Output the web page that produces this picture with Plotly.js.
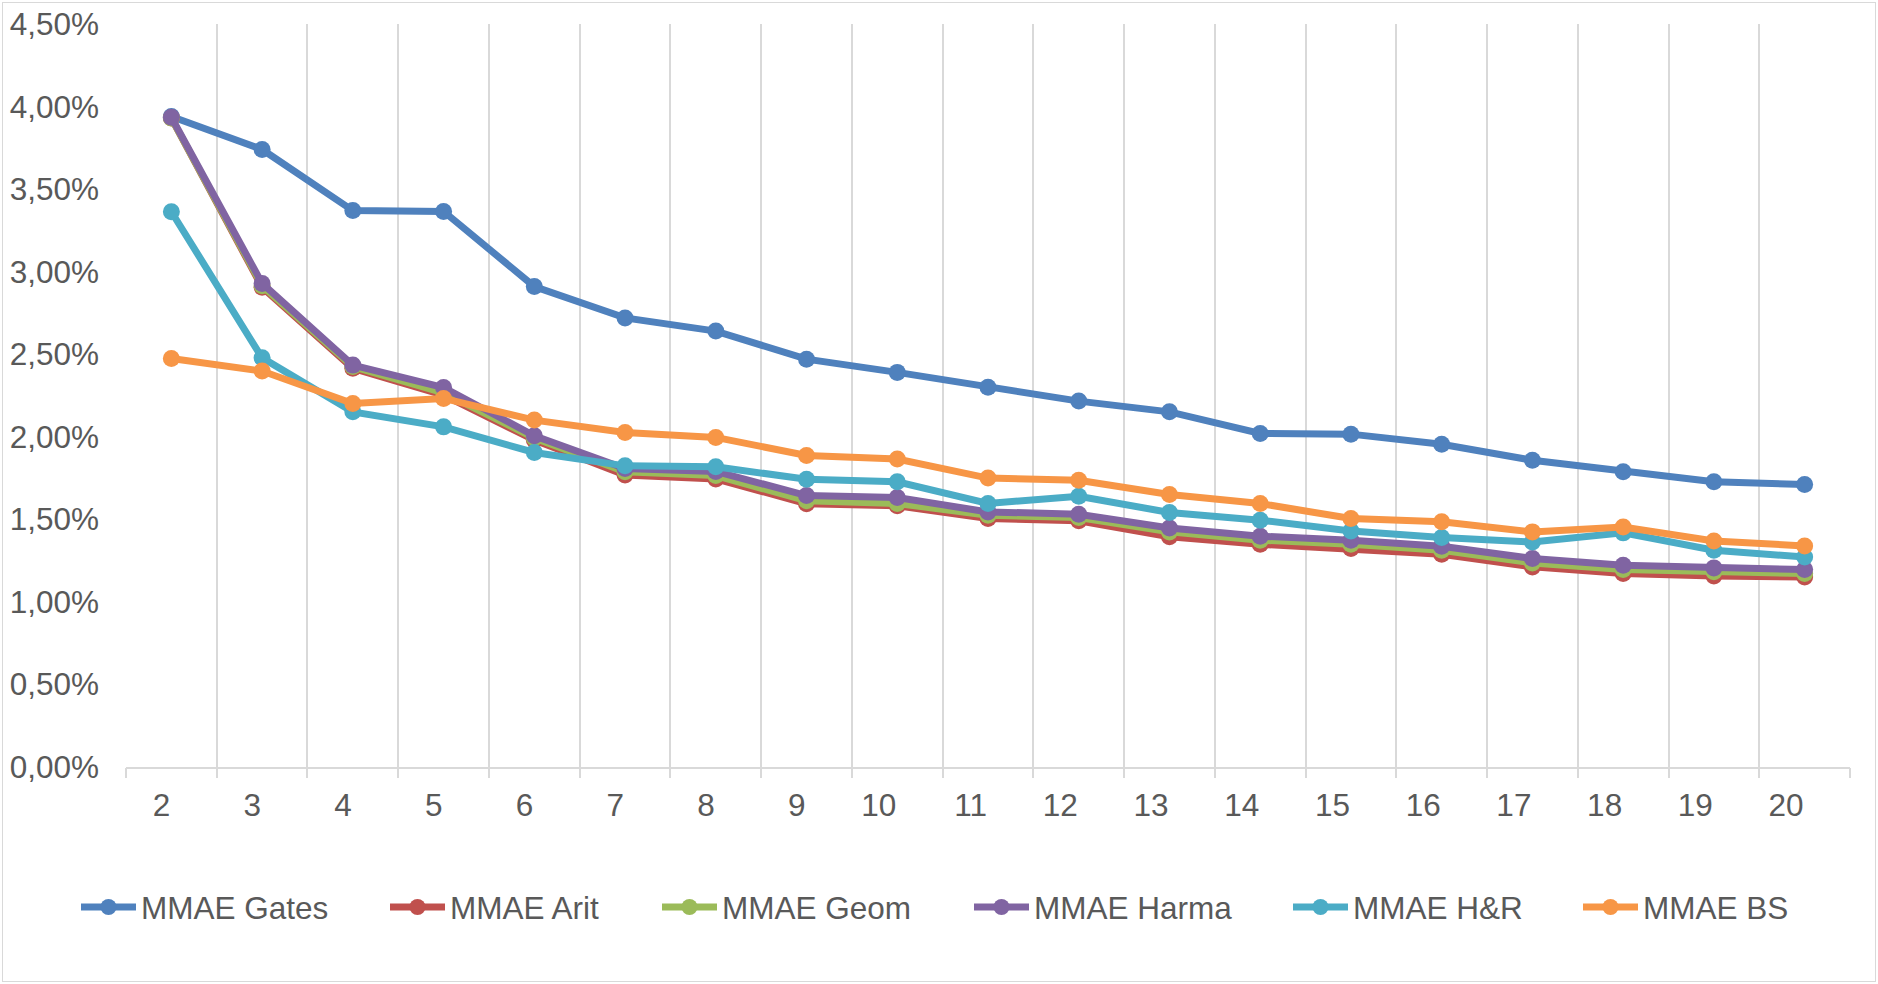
<!DOCTYPE html>
<html>
<head>
<meta charset="utf-8">
<script src="https://cdn.plot.ly/plotly-3.0.1.min.js"></script>
<style>
  html, body { margin: 0; padding: 0; background: #ffffff; }
  #wrap { position: relative; width: 1878px; height: 984px; }
  #chart { position: absolute; left: 0; top: 0; width: 1878px; height: 984px; }
  #frame { position: absolute; left: 2px; top: 2px; width: 1872px; height: 978px;
           border: 1.5px solid #d9d9d9; pointer-events: none; }
</style>
</head>
<body>
<div id="wrap">
  <div id="chart"></div>
  <div id="frame"></div>
</div>
<script>
// Number of components (x axis values)
const categories = [2, 3, 4, 5, 6, 7, 8, 9, 10, 11, 12, 13, 14, 15, 16, 17, 18, 19, 20];

// MMAE per method, in percent
const mmaeGates = [3.94, 3.74, 3.37, 3.365, 2.91, 2.72, 2.64, 2.47, 2.39, 2.30, 2.216, 2.151, 2.02, 2.016, 1.955, 1.858, 1.788, 1.727, 1.711];
const mmaeArit  = [3.93, 2.905, 2.415, 2.252, 1.98, 1.768, 1.745, 1.595, 1.582, 1.505, 1.491, 1.394, 1.349, 1.323, 1.289, 1.212, 1.172, 1.157, 1.151];
const mmaeGeom  = [3.93, 2.915, 2.425, 2.266, 1.993, 1.788, 1.765, 1.612, 1.596, 1.525, 1.511, 1.424, 1.374, 1.349, 1.313, 1.236, 1.196, 1.182, 1.172];
const mmaeHarma = [3.935, 2.929, 2.434, 2.298, 2.006, 1.808, 1.790, 1.644, 1.632, 1.545, 1.531, 1.448, 1.398, 1.374, 1.337, 1.263, 1.222, 1.206, 1.196];
const mmaeHR    = [3.363, 2.478, 2.151, 2.060, 1.905, 1.824, 1.818, 1.743, 1.727, 1.596, 1.640, 1.541, 1.495, 1.430, 1.390, 1.363, 1.418, 1.313, 1.272];
const mmaeBS    = [2.474, 2.398, 2.202, 2.232, 2.101, 2.026, 1.996, 1.887, 1.865, 1.750, 1.737, 1.650, 1.596, 1.505, 1.485, 1.424, 1.454, 1.369, 1.339];

const seriesNames  = ['MMAE Gates', 'MMAE Arit', 'MMAE Geom', 'MMAE Harma', 'MMAE H&R', 'MMAE BS'];
const seriesValues = [mmaeGates, mmaeArit, mmaeGeom, mmaeHarma, mmaeHR, mmaeBS];
const seriesColors = ['#4F81BD', '#C0504D', '#9BBB59', '#8064A2', '#4BACC6', '#F79646'];
// horizontal room given to each legend entry's label
const legendWidths = [239, 202, 242, 249, 220, 160];

const FONT = '"Liberation Sans", Arial, Helvetica, sans-serif';
const FS = 31.5;
const TEXT = '#595959';
const GRID = '#d9d9d9';

const traces = seriesNames.map((name, i) => ({
  type: 'scatter',
  mode: 'lines+markers',
  name: name,
  x: categories,
  y: seriesValues[i],
  line: { color: seriesColors[i], width: 7 },
  marker: { color: seriesColors[i], size: 17 },
  legendwidth: legendWidths[i],
  hoverinfo: 'x+y+name'
}));

// invisible trace that carries the boundary axis (gridlines and tick marks between categories)
traces.push({
  type: 'scatter',
  mode: 'none',
  x: [categories[0] - 0.5, categories[categories.length - 1] + 0.5],
  y: [0, 0],
  xaxis: 'x2',
  showlegend: false,
  hoverinfo: 'skip'
});

const xRange = [categories[0] - 0.5, categories[categories.length - 1] + 0.5];

const layout = {
  width: 1878,
  height: 984,
  margin: { l: 126, r: 28, t: 24, b: 217.3, pad: 0 },
  paper_bgcolor: '#ffffff',
  plot_bgcolor: '#ffffff',
  separators: ',.',
  font: { family: FONT, size: FS, color: TEXT },
  showlegend: true,
  legend: {
    orientation: 'h',
    x: -0.0290,
    xanchor: 'left',
    y: -0.1885,
    yanchor: 'middle',
    itemwidth: 55,
    font: { family: FONT, size: FS, color: TEXT },
    bgcolor: 'rgba(0,0,0,0)'
  },
  xaxis2: {
    overlaying: 'x',
    anchor: 'y',
    side: 'bottom',
    range: xRange,
    tick0: 1.5,
    dtick: 1,
    showgrid: true,
    gridcolor: GRID,
    gridwidth: 2,
    showline: false,
    ticks: 'outside',
    ticklen: 10,
    tickwidth: 2,
    tickcolor: GRID,
    showticklabels: false,
    zeroline: false,
    fixedrange: true
  },
  xaxis: {
    range: xRange,
    tick0: 2,
    dtick: 1,
    showgrid: false,
    showline: true,
    linecolor: GRID,
    linewidth: 2,
    ticks: '',
    ticklabelposition: 'outside left',
    ticklabelstandoff: 9,
    tickfont: { family: FONT, size: FS, color: TEXT },
    zeroline: false,
    fixedrange: true
  },
  yaxis: {
    range: [0, 4.5],
    tick0: 0,
    dtick: 0.5,
    tickformat: '.2f',
    ticksuffix: '%',
    showgrid: false,
    zeroline: false,
    showline: false,
    ticks: '',
    ticklabelstandoff: 26,
    tickfont: { family: FONT, size: FS, color: TEXT },
    fixedrange: true
  }
};

Plotly.newPlot('chart', traces, layout, { displayModeBar: false, staticPlot: true });
</script>
</body>
</html>
